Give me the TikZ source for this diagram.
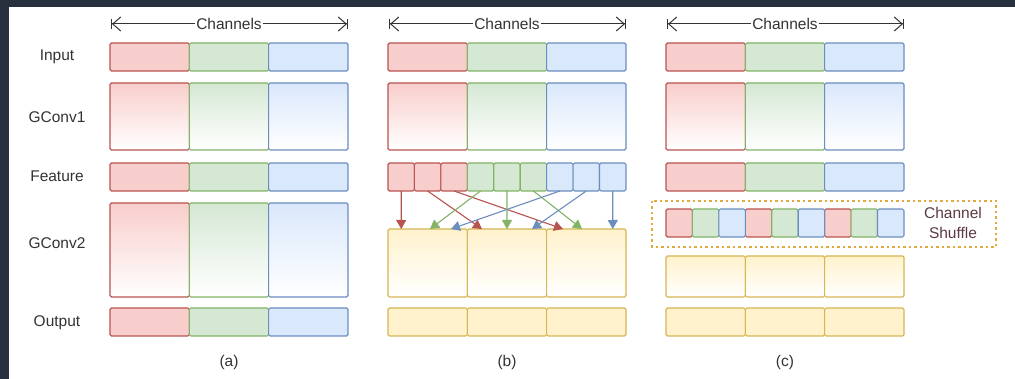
\documentclass[tikz,border=0pt]{standalone}
\usepackage{fontspec}
\setmainfont{Liberation Sans}
\usetikzlibrary{arrows.meta}

\definecolor{redfill}{HTML}{F8CECC}
\definecolor{redline}{HTML}{B85450}
\definecolor{greenfill}{HTML}{D5E8D4}
\definecolor{greenline}{HTML}{82B366}
\definecolor{bluefill}{HTML}{DAE8FC}
\definecolor{blueline}{HTML}{6C8EBF}
\definecolor{yelfill}{HTML}{FFF2CC}
\definecolor{yelline}{HTML}{D6B656}
\definecolor{shufline}{HTML}{E3A93F}
\definecolor{shuftext}{HTML}{5C3B42}
\definecolor{labgray}{HTML}{333333}
\definecolor{darkbg}{HTML}{29303D}

\tikzset{
  cell/.style={rounded corners=1.5pt, line width=1.1pt, anchor=north west,
    inner sep=0pt, outer sep=0pt, minimum width=79.33pt},
  small/.style={minimum width=26.44pt},
  redc/.style={cell, draw=redline, fill=redfill},
  greenc/.style={cell, draw=greenline, fill=greenfill},
  bluec/.style={cell, draw=blueline, fill=bluefill},
  yelc/.style={cell, draw=yelline, fill=yelfill},
  redg/.style={redc, top color=redfill, bottom color=white},
  greeng/.style={greenc, top color=greenfill, bottom color=white},
  blueg/.style={bluec, top color=bluefill, bottom color=white},
  yelg/.style={yelc, top color=yelfill, bottom color=white},
  chan/.style={draw=labgray, line width=1pt,
    -{Straight Barb[length=8pt,width=14pt]Bar[width=10pt]}},
  chantext/.style={fill=white, inner sep=1pt},
  mix/.style={line width=1.1pt, -{Triangle[length=9pt,width=10pt]}},
}

\begin{document}
\begin{tikzpicture}[x=1pt, y=-1pt, font=\fontsize{15.5}{18}\selectfont, text=labgray]
%%% CANVAS
\fill[darkbg] (0,0) rectangle (1015,379);
\fill[white] (9,7) rectangle (1015,379);

%%% ROW LABELS
\node (lInput) at (57,57) {Input};
\node (lGconv1) at (57,117) {GConv1};
\node (lFeature) at (57,176) {Feature};
\node (lGconv2) at (57,243) {GConv2};
\node (lOutput) at (57,323) {Output};

%%% CHANNELS, INPUT, GCONV1 (same in all three)
\foreach \p/\x in {a/110,b/388,c/666} {
  \coordinate (chl\p) at (\x+1,24);
  \coordinate (chr\p) at (\x+238,24);
  \node[chantext] (ch\p) at (\x+119,24) {Channels};
  \draw[chan] (ch\p) -- (chl\p);
  \draw[chan] (ch\p) -- (chr\p);
  \node[redc, minimum height=28pt] (in\p1) at (\x,43) {};
  \node[greenc, minimum height=28pt] (in\p2) at (\x+79.33,43) {};
  \node[bluec, minimum height=28pt] (in\p3) at (\x+158.67,43) {};
  \node[redg, minimum height=67pt] (gc\p1) at (\x,83) {};
  \node[greeng, minimum height=67pt] (gc\p2) at (\x+79.33,83) {};
  \node[blueg, minimum height=67pt] (gc\p3) at (\x+158.67,83) {};
}

%%% PANEL (a)
\node[redc, minimum height=28pt] (fa1) at (110,163) {};
\node[greenc, minimum height=28pt] (fa2) at (189.33,163) {};
\node[bluec, minimum height=28pt] (fa3) at (268.67,163) {};
\node[redg, minimum height=94pt] (ga1) at (110,203) {};
\node[greeng, minimum height=94pt] (ga2) at (189.33,203) {};
\node[blueg, minimum height=94pt] (ga3) at (268.67,203) {};
\node[redc, minimum height=28pt] (oa1) at (110,308) {};
\node[greenc, minimum height=28pt] (oa2) at (189.33,308) {};
\node[bluec, minimum height=28pt] (oa3) at (268.67,308) {};
\node (capa) at (229,362) {(a)};

%%% PANEL (b)
\foreach \i in {1,2,3} {
  \node[redc, small, minimum height=28pt] (fb\i) at (388+26.44*\i-26.44,163) {};
}
\foreach \i in {4,5,6} {
  \node[greenc, small, minimum height=28pt] (fb\i) at (388+26.44*\i-26.44,163) {};
}
\foreach \i in {7,8,9} {
  \node[bluec, small, minimum height=28pt] (fb\i) at (388+26.44*\i-26.44,163) {};
}
\node[yelg, minimum height=68pt] (gb1) at (388,229) {};
\node[yelg, minimum height=68pt] (gb2) at (467.33,229) {};
\node[yelg, minimum height=68pt] (gb3) at (546.67,229) {};
\node[yelc, minimum height=28pt] (ob1) at (388,308) {};
\node[yelc, minimum height=28pt] (ob2) at (467.33,308) {};
\node[yelc, minimum height=28pt] (ob3) at (546.67,308) {};
\coordinate (tr1) at (401.2,229);
\coordinate (tr2) at (482,229);
\coordinate (tr3) at (563,229);
\coordinate (tg1) at (430,229);
\coordinate (tg2) at (507,229);
\coordinate (tg3) at (582,229);
\coordinate (tb1) at (451,229);
\coordinate (tb2) at (532,229);
\coordinate (tb3) at (612.8,229);
\draw[mix, redline] (fb1.south) -- (tr1);
\draw[mix, redline] (fb2.south) -- (tr2);
\draw[mix, redline] (fb3.south) -- (tr3);
\draw[mix, greenline] (fb4.south) -- (tg1);
\draw[mix, greenline] (fb5.south) -- (tg2);
\draw[mix, greenline] (fb6.south) -- (tg3);
\draw[mix, blueline] (fb7.south) -- (tb1);
\draw[mix, blueline] (fb8.south) -- (tb2);
\draw[mix, blueline] (fb9.south) -- (tb3);
\node (capb) at (507,362) {(b)};

%%% PANEL (c)
\node[redc, minimum height=28pt] (fc1) at (666,163) {};
\node[greenc, minimum height=28pt] (fc2) at (745.33,163) {};
\node[bluec, minimum height=28pt] (fc3) at (824.67,163) {};
\foreach \i in {1,4,7} {
  \node[redc, small, minimum height=28pt] (sc\i) at (666+26.44*\i-26.44,209) {};
}
\foreach \i in {2,5,8} {
  \node[greenc, small, minimum height=28pt] (sc\i) at (666+26.44*\i-26.44,209) {};
}
\foreach \i in {3,6,9} {
  \node[bluec, small, minimum height=28pt] (sc\i) at (666+26.44*\i-26.44,209) {};
}
\draw[shufline, line width=1.4pt, dash pattern=on 2.5pt off 3pt] (652,201) rectangle (996,247);
\node[text=shuftext, align=center, font=\fontsize{15.5}{20}\selectfont] (shuf) at (953,223) {Channel\\Shuffle};
\node[yelg, minimum height=41pt] (gc21) at (666,256) {};
\node[yelg, minimum height=41pt] (gc22) at (745.33,256) {};
\node[yelg, minimum height=41pt] (gc23) at (824.67,256) {};
\node[yelc, minimum height=28pt] (oc1) at (666,308) {};
\node[yelc, minimum height=28pt] (oc2) at (745.33,308) {};
\node[yelc, minimum height=28pt] (oc3) at (824.67,308) {};
\node (capc) at (785,362) {(c)};
\end{tikzpicture}
\end{document}
